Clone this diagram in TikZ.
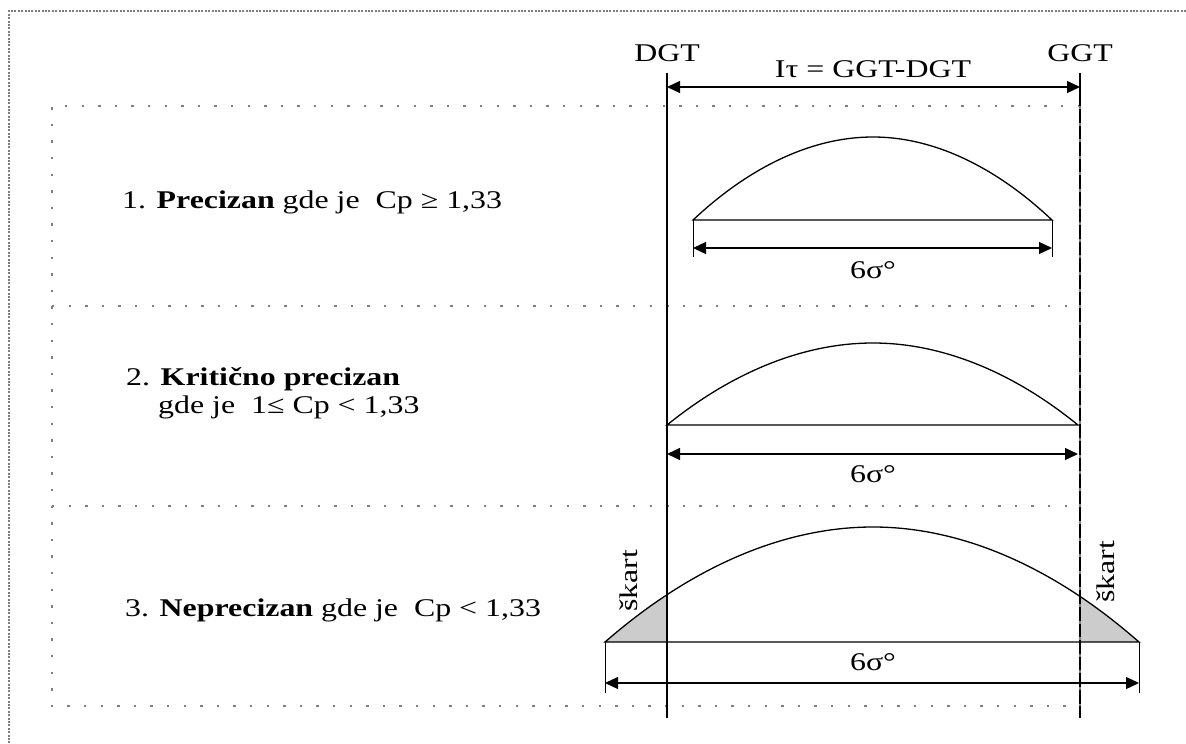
\documentclass[tikz,border=0pt]{standalone}
\usepackage{fontspec}
\setmainfont{Liberation Serif}[FakeStretch=1.25]
\usetikzlibrary{arrows.meta}
\definecolor{framegray}{HTML}{7E7E7E}
\definecolor{scrapgray}{HTML}{CCCCCC}
\begin{document}
\begin{tikzpicture}[x=1pt,y=-1pt,
  txt/.style={inner sep=0pt, font=\fontsize{25.5}{28}\selectfont},
  frameline/.style={draw=framegray, line width=2pt, dash pattern=on 2pt off 1.4pt},
  sepline/.style={draw=framegray, line width=2.4pt, dash pattern=on 2.4pt off 14.2pt},
  ggtdots/.style={draw=framegray, line width=1.4pt, dash pattern=on 3pt off 13.6pt},
  limitline/.style={line width=2.4pt},
  dimarrow/.style={line width=1.3pt, {Triangle[length=13pt,width=12pt]}-{Triangle[length=13pt,width=12pt]}},
  curveline/.style={line width=1.3pt},
  extline/.style={line width=1pt}
]
\useasboundingbox (0,0) rectangle (1186,744);

% outer frame
\draw[frameline] (1186,11) -- (9,11) -- (9,744);

% coordinates
\coordinate (dgtT) at (667,73);  \coordinate (dgtB) at (667,718);
\coordinate (ggtT) at (1080,73); \coordinate (ggtB) at (1080,718);
\coordinate (topL) at (667,87);  \coordinate (topR) at (1080,87);

% section 1
\coordinate (a1) at (693,220); \coordinate (b1) at (1052,220); \coordinate (p1) at (873,137);
\coordinate (a1d) at (693,257); \coordinate (b1d) at (1052,257);
\coordinate (a1m) at (693,248); \coordinate (b1m) at (1052,248);
% section 2
\coordinate (a2) at (667,425); \coordinate (b2) at (1078,425); \coordinate (p2) at (873,343);
\coordinate (a2m) at (667,454); \coordinate (b2m) at (1078,454);
% section 3
\coordinate (a3) at (605,642); \coordinate (b3) at (1139,642); \coordinate (p3) at (873,527);
\coordinate (a3d) at (605,693); \coordinate (b3d) at (1139,693);
\coordinate (a3m) at (605,683); \coordinate (b3m) at (1139,683);

% scrap areas
\begin{scope}
  \clip (600,500) rectangle (667,642);
  \fill[scrapgray] (a3) parabola bend (p3) (b3) -- cycle;
\end{scope}
\begin{scope}
  \clip (1080,500) rectangle (1145,642);
  \fill[scrapgray] (a3) parabola bend (p3) (b3) -- cycle;
\end{scope}

% inner dotted box
\draw[sepline] (1080,106) -- (52,106) -- (52,706) -- (1068,706);
\draw[sepline] (52,306) -- (1080,306);
\draw[sepline] (52,506) -- (1080,506);

% limit lines
\draw[limitline] (dgtT) -- (dgtB);
\draw[limitline] (ggtT) -- (ggtB);
\draw[ggtdots] (1080,106) -- (1080,706);

% tolerance arrow
\draw[dimarrow] (topL) -- (topR);
\node[txt, anchor=base] (dgt) at (667,61) {DGT};
\node[txt, anchor=base] (ggt) at (1080,61) {GGT};
\node[txt, anchor=base] (itau) at (873,77) {Iτ = GGT-DGT};

% section 1 drawing
\draw[curveline] (a1) parabola bend (p1) (b1) -- cycle;
\draw[extline] (a1) -- (a1d);
\draw[extline] (b1) -- (b1d);
\draw[dimarrow] (a1m) -- (b1m);
\node[txt, anchor=base] (s1) at (873,278) {6σ°};

% section 2 drawing
\draw[curveline] (a2) parabola bend (p2) (b2) -- cycle;
\draw[dimarrow] (a2m) -- (b2m);
\node[txt, anchor=base] (s2) at (873,482) {6σ°};

% section 3 drawing
\draw[curveline] (a3) parabola bend (p3) (b3) -- cycle;
\draw[extline] (a3) -- (a3d);
\draw[extline] (b3) -- (b3d);
\draw[dimarrow] (a3m) -- (b3m);
\node[txt, anchor=base] (s3) at (873,670) {6σ°};
\node[txt, rotate=90] (sk1) at (629,581) {škart};
\node[txt, rotate=90] (sk2) at (1106,572) {škart};

% left labels
\node[txt, anchor=base west] (l1) at (122,208) {1. \textbf{Precizan} gde je \ Cp ≥ 1,33};
\node[txt, anchor=base west] (l2a) at (126,385) {2. \textbf{Kritično precizan}};
\node[txt, anchor=base west] (l2b) at (158,413) {gde je \ 1≤ Cp < 1,33};
\node[txt, anchor=base west] (l3) at (125,616) {3. \textbf{Neprecizan} gde je \ Cp < 1,33};
\end{tikzpicture}
\end{document}
